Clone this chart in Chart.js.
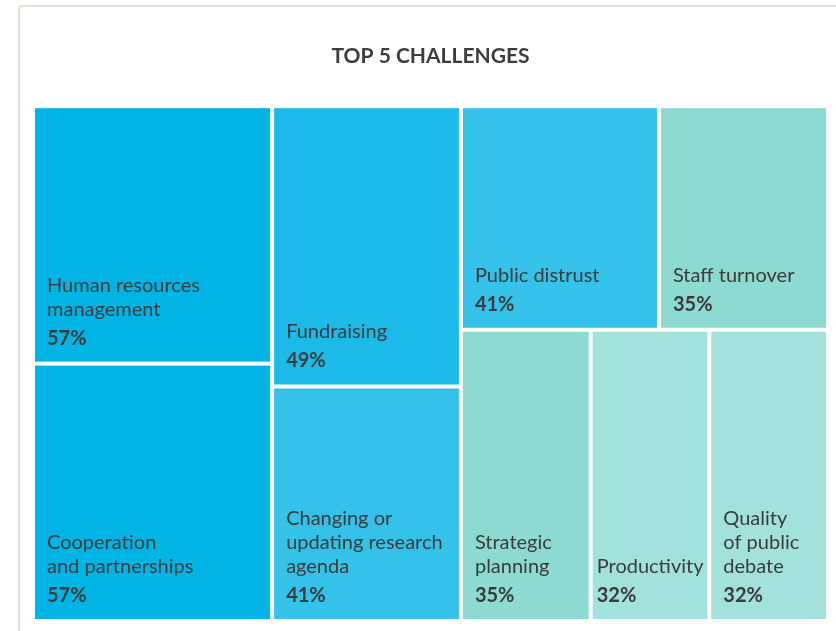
<!DOCTYPE html>
<html>
<head>
<meta charset="utf-8">
<script src="https://cdn.jsdelivr.net/npm/chart.js@4.4.1/dist/chart.umd.min.js"></script>
<style>
    html, body { margin: 0; padding: 0; background: #fff; }
    .card { position: absolute; left: 18px; top: 5px; width: 900px; height: 700px; border: 2px solid #e3e1d5; border-radius: 4px; }
    .wrap { position: absolute; left: 0; top: 0; width: 836px; height: 631px; }
</style>
</head>
<body>
<div class="card"></div>
<div class="wrap"><canvas id="treemap"></canvas></div>
<script>
// Data
const categories = ['Human resources management', 'Cooperation and partnerships', 'Fundraising',
    'Changing or updating research agenda', 'Public distrust', 'Staff turnover',
    'Strategic planning', 'Productivity', 'Quality of public debate'];
const labelLines = [
    ['Human resources', 'management'],
    ['Cooperation', 'and partnerships'],
    ['Fundraising'],
    ['Changing or', 'updating research', 'agenda'],
    ['Public distrust'],
    ['Staff turnover'],
    ['Strategic', 'planning'],
    ['Productivity'],
    ['Quality', 'of public', 'debate']
];
const values = [57, 57, 49, 41, 41, 35, 35, 32, 32];

// How many cells go into each strip of the treemap
const stripSizes = [2, 2, 2, 3];
const cellColors = ['#00b4e6', '#00b4e6', '#1bbae9', '#34c2eb', '#34c2eb', '#8ddad3', '#8ddad3', '#a3e1dc', '#a3e1dc'];

const FONT = 'Lato, "Open Sans", sans-serif';
const GAP = 4;

// Simple strip treemap: each strip goes along the shorter side, the last one fills what is left
function layoutTreemap(vals, w, h) {
    const total = vals.reduce((a, b) => a + b, 0);
    const unit = (w * h) / total;
    let x = 0, y = 0, rw = w, rh = h, i = 0;
    const rects = [];
    stripSizes.forEach((n, s) => {
        const items = vals.slice(i, i + n);
        const sum = items.reduce((a, b) => a + b, 0);
        const last = s === stripSizes.length - 1;
        if (!last && rw >= rh) {
            const cw = sum * unit / rh;
            let cy = y;
            items.forEach(v => { const ch = rh * v / sum; rects.push({ x, y: cy, w: cw, h: ch }); cy += ch; });
            x += cw; rw -= cw;
        } else if (!last) {
            const ch = sum * unit / rw;
            let cx = x;
            items.forEach(v => { const cw = rw * v / sum; rects.push({ x: cx, y, w: cw, h: ch }); cx += cw; });
            y += ch; rh -= ch;
        } else if (rw >= rh) {
            let cx = x;
            items.forEach(v => { const cw = rw * v / sum; rects.push({ x: cx, y, w: cw, h: rh }); cx += cw; });
        } else {
            let cy = y;
            items.forEach(v => { const ch = rh * v / sum; rects.push({ x, y: cy, w: rw, h: ch }); cy += ch; });
        }
        i += n;
    });
    // back to data units (0..100 on both axes)
    return rects.map(r => ({ x0: r.x / w * 100, x1: (r.x + r.w) / w * 100, y0: r.y / h * 100, y1: (r.y + r.h) / h * 100 }));
}

const treemapCells = {
    id: 'treemapCells',
    afterDatasetsDraw(chart) {
        const { ctx, chartArea, scales } = chart;
        const cells = layoutTreemap(values, chartArea.width, chartArea.height);
        ctx.save();
        cells.forEach((c, k) => {
            const left = scales.x.getPixelForValue(c.x0) + GAP / 2;
            const right = scales.x.getPixelForValue(c.x1) - GAP / 2;
            const top = scales.y.getPixelForValue(c.y0) + GAP / 2;
            const bottom = scales.y.getPixelForValue(c.y1) - GAP / 2;
            ctx.fillStyle = cellColors[k];
            ctx.fillRect(left, top, right - left, bottom - top);

            ctx.fillStyle = '#3b3b3b';
            ctx.textAlign = 'left';
            ctx.textBaseline = 'alphabetic';
            const lines = labelLines[k];
            ctx.font = '20px ' + FONT;
            const widest = Math.max(...lines.map(l => ctx.measureText(l).width));
            // tight cells get a smaller left padding so the label stays inside
            let tx = left + 12;
            if (tx + widest > right - 4) tx = Math.max(left + 4, right - 4 - widest);
            const pctBase = bottom - 17;
            lines.forEach((line, j) => {
                ctx.fillText(line, tx, pctBase - 29 - (lines.length - 1 - j) * 24);
            });
            ctx.font = 'bold 20px ' + FONT;
            ctx.fillText(values[k] + '%', tx, pctBase);
        });
        ctx.restore();
    }
};

new Chart(document.getElementById('treemap'), {
    type: 'scatter',
    data: {
        labels: categories,
        datasets: [{ label: 'Top 5 challenges', data: [], pointRadius: 0 }]
    },
    options: {
        responsive: true,
        maintainAspectRatio: false,
        animation: false,
        layout: { padding: { left: 33, right: 8, top: 0, bottom: 10 } },
        scales: {
            x: { type: 'linear', min: 0, max: 100, display: false },
            y: { type: 'linear', min: 0, max: 100, reverse: true, display: false }
        },
        plugins: {
            legend: { display: false },
            tooltip: { enabled: false },
            title: {
                display: true,
                text: 'TOP 5 CHALLENGES',
                color: '#3d3d3d',
                font: { family: FONT, size: 21, weight: 'bold', lineHeight: 1.2 },
                padding: { top: 44, bottom: 37 }
            }
        }
    },
    plugins: [treemapCells]
});
</script>
</body>
</html>
